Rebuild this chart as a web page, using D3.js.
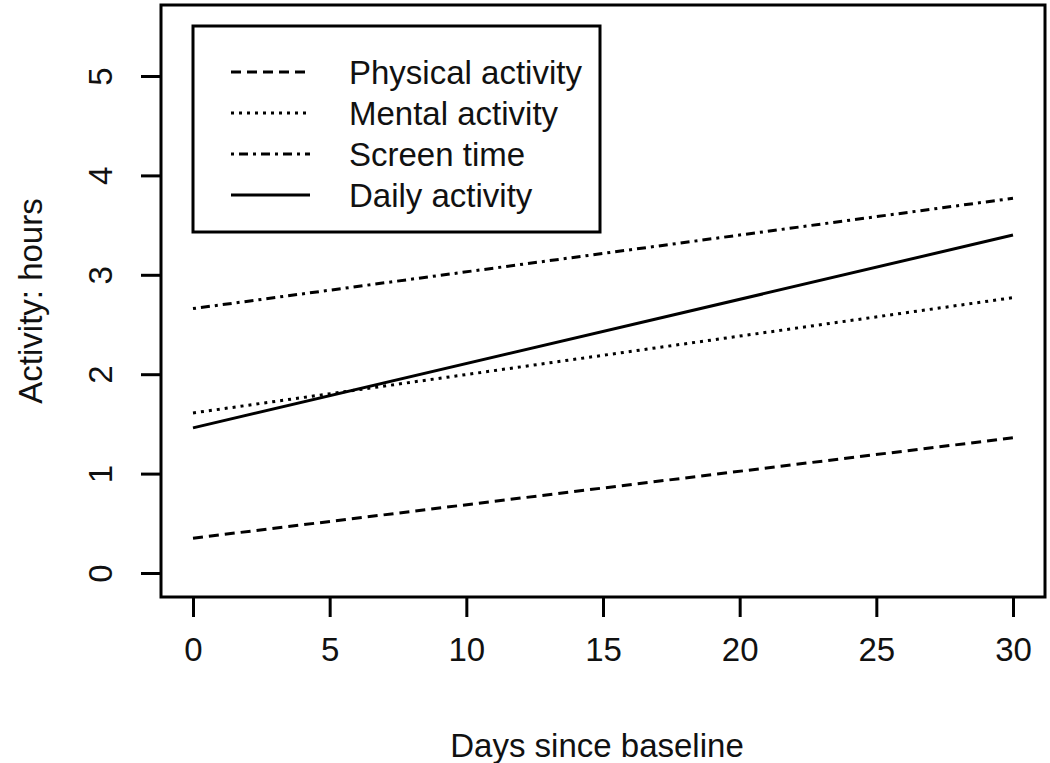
<!DOCTYPE html>
<html>
<head>
<meta charset="utf-8">
<script src="https://cdn.jsdelivr.net/npm/d3@7"></script>
<style>
  html, body { margin: 0; padding: 0; background: #fff; }
  svg { display: block; }
  text { font-family: "Liberation Sans", Arial, sans-serif; fill: #111; }
</style>
</head>
<body>
<svg id="chart" width="1050" height="763"></svg>
<script>
// ---- data ----
const days = [0, 30];
const physical = [0.35, 1.36];
const mental = [1.61, 2.77];
const screen = [2.66, 3.77];
const daily = [1.46, 3.40];
const seriesNames = ["Physical activity", "Mental activity", "Screen time", "Daily activity"];
const xTicks = [0, 5, 10, 15, 20, 25, 30];
const yTicks = [0, 1, 2, 3, 4, 5];
const xTitle = "Days since baseline";
const yTitle = "Activity: hours";

// ---- layout ----
const svg = d3.select("#chart");
const box = { left: 161, top: 5, right: 1045, bottom: 597 };
const x = d3.scaleLinear().domain([0, 30]).range([193, 1013]);
const y = d3.scaleLinear().domain([0, 5]).range([573, 76]);
const fs = 33;
const dashes = ["10,6", "3,5", "3,5,9,5", null];
const seriesData = [physical, mental, screen, daily];

// lines
const line = d3.line().x(d => x(d[0])).y(d => y(d[1]));
seriesData.forEach((vals, i) => {
  const pts = days.map((d, j) => [d, vals[j]]);
  svg.append("path")
    .datum(pts)
    .attr("d", line)
    .attr("fill", "none")
    .attr("stroke", "#000")
    .attr("stroke-width", 3)
    .attr("stroke-dasharray", dashes[i]);
});

// box
svg.append("rect")
  .attr("x", box.left).attr("y", box.top)
  .attr("width", box.right - box.left).attr("height", box.bottom - box.top)
  .attr("fill", "none").attr("stroke", "#000").attr("stroke-width", 3);

// x axis
const xAxis = svg.append("g")
  .attr("transform", `translate(0,${box.bottom})`)
  .call(d3.axisBottom(x).tickValues(xTicks).tickFormat(d3.format("d")).tickSize(20).tickSizeOuter(0).tickPadding(21));
xAxis.select(".domain").remove();
xAxis.selectAll("line").attr("stroke", "#000").attr("stroke-width", 3);
xAxis.selectAll("text").style("font-size", fs + "px").attr("fill", "#111")
  .attr("font-family", "Liberation Sans, Arial, sans-serif");

// y axis
const yAxis = svg.append("g")
  .attr("transform", `translate(${box.left},0)`)
  .call(d3.axisLeft(y).tickValues(yTicks).tickFormat(d3.format("d")).tickSize(20).tickSizeOuter(0));
yAxis.select(".domain").remove();
yAxis.selectAll("line").attr("stroke", "#000").attr("stroke-width", 3);
yAxis.selectAll("text")
  .attr("x", null).attr("dy", null)
  .attr("transform", "translate(-61,0) rotate(-90)")
  .attr("text-anchor", "middle")
  .attr("dominant-baseline", "central")
  .style("font-size", fs + "px").attr("fill", "#111")
  .attr("font-family", "Liberation Sans, Arial, sans-serif");

// axis titles
svg.append("text")
  .attr("x", (box.left + box.right) / 2 - 6).attr("y", 745)
  .attr("text-anchor", "middle").attr("dominant-baseline", "central")
  .style("font-size", fs + "px").text(xTitle);
svg.append("text")
  .attr("transform", `translate(30,${(box.top + box.bottom) / 2}) rotate(-90)`)
  .attr("text-anchor", "middle").attr("dominant-baseline", "central")
  .style("font-size", fs + "px").text(yTitle);

// legend
const legend = { left: 193, top: 26, right: 600, bottom: 232 };
svg.append("rect")
  .attr("x", legend.left).attr("y", legend.top)
  .attr("width", legend.right - legend.left).attr("height", legend.bottom - legend.top)
  .attr("fill", "#fff").attr("stroke", "#000").attr("stroke-width", 3);
const rowY = d3.scalePoint().domain(seriesNames).range([72, 195]);
seriesNames.forEach((name, i) => {
  const yy = rowY(name);
  svg.append("line")
    .attr("x1", 231).attr("x2", 310).attr("y1", yy).attr("y2", yy)
    .attr("stroke", "#000").attr("stroke-width", 3)
    .attr("stroke-dasharray", dashes[i]);
  svg.append("text")
    .attr("x", 349).attr("y", yy)
    .attr("dominant-baseline", "central")
    .style("font-size", fs + "px").text(name);
});
</script>
</body>
</html>
